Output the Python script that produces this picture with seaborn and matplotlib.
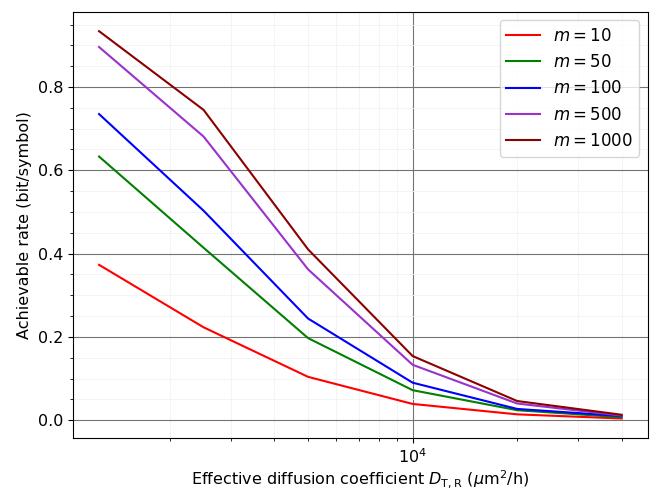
import numpy as np
import pandas as pd
import matplotlib
matplotlib.use("Agg")
import matplotlib.pyplot as plt
import seaborn as sns
from matplotlib.ticker import AutoMinorLocator

# Dados
d_eff = [1250, 2500, 5000, 10000, 20000, 40000]
m_vals = [10, 50, 100, 500, 1000]
rate_m10 = [0.373, 0.223, 0.104, 0.039, 0.014, 0.004]
rate_m50 = [0.633, 0.414, 0.197, 0.072, 0.024, 0.007]
rate_m100 = [0.735, 0.503, 0.244, 0.090, 0.027, 0.010]
rate_m500 = [0.896, 0.681, 0.362, 0.133, 0.040, 0.011]
rate_m1000 = [0.934, 0.745, 0.410, 0.154, 0.046, 0.013]
cores = ["red", "green", "blue", "darkorchid", "darkred"]

series = [rate_m10, rate_m50, rate_m100, rate_m500, rate_m1000]
linhas = []
for m, vals in zip(m_vals, series):
    for x, r in zip(d_eff, vals):
        linhas.append({"D": x, "rate": r, "m": rf"$m = {m}$"})
dados = pd.DataFrame(linhas)

fig, ax = plt.subplots(figsize=(6.57, 4.92), dpi=100)
sns.lineplot(data=dados, x="D", y="rate", hue="m", palette=cores, ax=ax, lw=1.5)
ax.set_xscale("log")
ax.yaxis.set_minor_locator(AutoMinorLocator(4))
ax.tick_params(which="major", labelsize=11.5)

ax.grid(True, which="major", color="0.45", lw=0.8)
ax.grid(True, which="minor", color="0.95", lw=0.6)
ax.set_axisbelow(True)

ax.set_xlabel(r"Effective diffusion coefficient $D_{\mathrm{T,R}}$ ($\mu$m$^2$/h)",
              fontsize=11.5, labelpad=1.5)
ax.set_ylabel("Achievable rate (bit/symbol)", fontsize=11.5)
ax.legend(title=None, loc="upper right", fontsize=12)

fig.subplots_adjust(left=0.111, right=0.986, top=0.976, bottom=0.110)
plt.savefig("out.png")
plt.close()
